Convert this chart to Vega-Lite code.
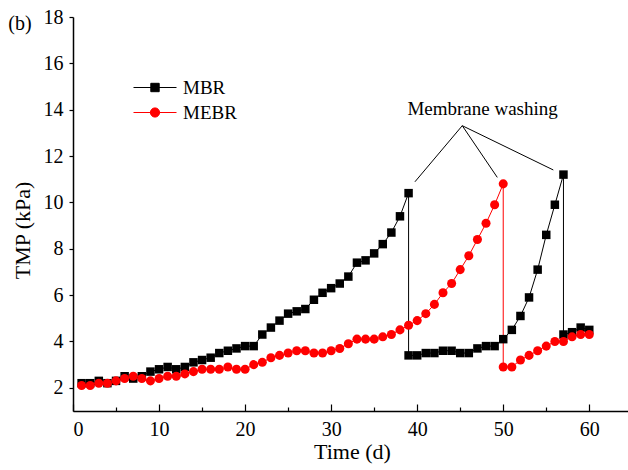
{
  "$schema": "https://vega.github.io/schema/vega-lite/v6.json",
  "width": 555,
  "height": 394,
  "autosize": "none",
  "padding": {"left": 73, "top": 17, "right": 0, "bottom": 59},
  "background": "white",
  "config": {
    "view": {"stroke": null},
    "font": "Liberation Serif",
    "text": {"font": "Liberation Serif"},
    "style": {
      "guide-label": {"font": "Liberation Serif", "fill": "black"},
      "guide-title": {"font": "Liberation Serif", "fill": "black"}
    },
    "legend": {"labelFont": "Liberation Serif"},
    "axis": {
      "grid": false,
      "domainColor": "black",
      "tickColor": "black",
      "labelColor": "black",
      "titleColor": "black",
      "labelFont": "Liberation Serif",
      "titleFont": "Liberation Serif",
      "labelFontSize": 20,
      "titleFontSize": 22,
      "titleFontWeight": "normal",
      "domainWidth": 1.5,
      "tickWidth": 1.2
    }
  },
  "datasets": {
    "tmp": [
      {"series": "MBR", "i": 1, "day": 1, "tmp": 2.2},
      {"series": "MBR", "i": 2, "day": 2, "tmp": 2.2},
      {"series": "MBR", "i": 3, "day": 3, "tmp": 2.3},
      {"series": "MBR", "i": 4, "day": 4, "tmp": 2.2},
      {"series": "MBR", "i": 5, "day": 5, "tmp": 2.3},
      {"series": "MBR", "i": 6, "day": 6, "tmp": 2.5},
      {"series": "MBR", "i": 7, "day": 7, "tmp": 2.4},
      {"series": "MBR", "i": 8, "day": 8, "tmp": 2.5},
      {"series": "MBR", "i": 9, "day": 9, "tmp": 2.7},
      {"series": "MBR", "i": 10, "day": 10, "tmp": 2.8},
      {"series": "MBR", "i": 11, "day": 11, "tmp": 2.9},
      {"series": "MBR", "i": 12, "day": 12, "tmp": 2.8},
      {"series": "MBR", "i": 13, "day": 13, "tmp": 2.9},
      {"series": "MBR", "i": 14, "day": 14, "tmp": 3.1},
      {"series": "MBR", "i": 15, "day": 15, "tmp": 3.2},
      {"series": "MBR", "i": 16, "day": 16, "tmp": 3.3},
      {"series": "MBR", "i": 17, "day": 17, "tmp": 3.5},
      {"series": "MBR", "i": 18, "day": 18, "tmp": 3.6},
      {"series": "MBR", "i": 19, "day": 19, "tmp": 3.7},
      {"series": "MBR", "i": 20, "day": 20, "tmp": 3.8},
      {"series": "MBR", "i": 21, "day": 21, "tmp": 3.8},
      {"series": "MBR", "i": 22, "day": 22, "tmp": 4.3},
      {"series": "MBR", "i": 23, "day": 23, "tmp": 4.6},
      {"series": "MBR", "i": 24, "day": 24, "tmp": 4.9},
      {"series": "MBR", "i": 25, "day": 25, "tmp": 5.2},
      {"series": "MBR", "i": 26, "day": 26, "tmp": 5.3},
      {"series": "MBR", "i": 27, "day": 27, "tmp": 5.4},
      {"series": "MBR", "i": 28, "day": 28, "tmp": 5.8},
      {"series": "MBR", "i": 29, "day": 29, "tmp": 6.1},
      {"series": "MBR", "i": 30, "day": 30, "tmp": 6.3},
      {"series": "MBR", "i": 31, "day": 31, "tmp": 6.5},
      {"series": "MBR", "i": 32, "day": 32, "tmp": 6.8},
      {"series": "MBR", "i": 33, "day": 33, "tmp": 7.4},
      {"series": "MBR", "i": 34, "day": 34, "tmp": 7.5},
      {"series": "MBR", "i": 35, "day": 35, "tmp": 7.8},
      {"series": "MBR", "i": 36, "day": 36, "tmp": 8.2},
      {"series": "MBR", "i": 37, "day": 37, "tmp": 8.7},
      {"series": "MBR", "i": 38, "day": 38, "tmp": 9.4},
      {"series": "MBR", "i": 39, "day": 39, "tmp": 10.4},
      {"series": "MBR", "i": 40, "day": 39, "tmp": 3.4},
      {"series": "MBR", "i": 41, "day": 40, "tmp": 3.4},
      {"series": "MBR", "i": 42, "day": 41, "tmp": 3.5},
      {"series": "MBR", "i": 43, "day": 42, "tmp": 3.5},
      {"series": "MBR", "i": 44, "day": 43, "tmp": 3.6},
      {"series": "MBR", "i": 45, "day": 44, "tmp": 3.6},
      {"series": "MBR", "i": 46, "day": 45, "tmp": 3.5},
      {"series": "MBR", "i": 47, "day": 46, "tmp": 3.5},
      {"series": "MBR", "i": 48, "day": 47, "tmp": 3.7},
      {"series": "MBR", "i": 49, "day": 48, "tmp": 3.8},
      {"series": "MBR", "i": 50, "day": 49, "tmp": 3.8},
      {"series": "MBR", "i": 51, "day": 50, "tmp": 4.1},
      {"series": "MBR", "i": 52, "day": 51, "tmp": 4.5},
      {"series": "MBR", "i": 53, "day": 52, "tmp": 5.1},
      {"series": "MBR", "i": 54, "day": 53, "tmp": 5.9},
      {"series": "MBR", "i": 55, "day": 54, "tmp": 7.1},
      {"series": "MBR", "i": 56, "day": 55, "tmp": 8.6},
      {"series": "MBR", "i": 57, "day": 56, "tmp": 9.9},
      {"series": "MBR", "i": 58, "day": 57, "tmp": 11.2},
      {"series": "MBR", "i": 59, "day": 57, "tmp": 4.3},
      {"series": "MBR", "i": 60, "day": 58, "tmp": 4.4},
      {"series": "MBR", "i": 61, "day": 59, "tmp": 4.6},
      {"series": "MBR", "i": 62, "day": 60, "tmp": 4.5},
      {"series": "MEBR", "i": 1, "day": 1, "tmp": 2.1},
      {"series": "MEBR", "i": 2, "day": 2, "tmp": 2.1},
      {"series": "MEBR", "i": 3, "day": 3, "tmp": 2.2},
      {"series": "MEBR", "i": 4, "day": 4, "tmp": 2.2},
      {"series": "MEBR", "i": 5, "day": 5, "tmp": 2.3},
      {"series": "MEBR", "i": 6, "day": 6, "tmp": 2.4},
      {"series": "MEBR", "i": 7, "day": 7, "tmp": 2.5},
      {"series": "MEBR", "i": 8, "day": 8, "tmp": 2.4},
      {"series": "MEBR", "i": 9, "day": 9, "tmp": 2.3},
      {"series": "MEBR", "i": 10, "day": 10, "tmp": 2.4},
      {"series": "MEBR", "i": 11, "day": 11, "tmp": 2.5},
      {"series": "MEBR", "i": 12, "day": 12, "tmp": 2.5},
      {"series": "MEBR", "i": 13, "day": 13, "tmp": 2.6},
      {"series": "MEBR", "i": 14, "day": 14, "tmp": 2.7},
      {"series": "MEBR", "i": 15, "day": 15, "tmp": 2.8},
      {"series": "MEBR", "i": 16, "day": 16, "tmp": 2.8},
      {"series": "MEBR", "i": 17, "day": 17, "tmp": 2.8},
      {"series": "MEBR", "i": 18, "day": 18, "tmp": 2.9},
      {"series": "MEBR", "i": 19, "day": 19, "tmp": 2.8},
      {"series": "MEBR", "i": 20, "day": 20, "tmp": 2.8},
      {"series": "MEBR", "i": 21, "day": 21, "tmp": 3.0},
      {"series": "MEBR", "i": 22, "day": 22, "tmp": 3.1},
      {"series": "MEBR", "i": 23, "day": 23, "tmp": 3.3},
      {"series": "MEBR", "i": 24, "day": 24, "tmp": 3.4},
      {"series": "MEBR", "i": 25, "day": 25, "tmp": 3.5},
      {"series": "MEBR", "i": 26, "day": 26, "tmp": 3.6},
      {"series": "MEBR", "i": 27, "day": 27, "tmp": 3.6},
      {"series": "MEBR", "i": 28, "day": 28, "tmp": 3.5},
      {"series": "MEBR", "i": 29, "day": 29, "tmp": 3.5},
      {"series": "MEBR", "i": 30, "day": 30, "tmp": 3.6},
      {"series": "MEBR", "i": 31, "day": 31, "tmp": 3.7},
      {"series": "MEBR", "i": 32, "day": 32, "tmp": 3.9},
      {"series": "MEBR", "i": 33, "day": 33, "tmp": 4.1},
      {"series": "MEBR", "i": 34, "day": 34, "tmp": 4.1},
      {"series": "MEBR", "i": 35, "day": 35, "tmp": 4.1},
      {"series": "MEBR", "i": 36, "day": 36, "tmp": 4.2},
      {"series": "MEBR", "i": 37, "day": 37, "tmp": 4.3},
      {"series": "MEBR", "i": 38, "day": 38, "tmp": 4.5},
      {"series": "MEBR", "i": 39, "day": 39, "tmp": 4.7},
      {"series": "MEBR", "i": 40, "day": 40, "tmp": 4.9},
      {"series": "MEBR", "i": 41, "day": 41, "tmp": 5.2},
      {"series": "MEBR", "i": 42, "day": 42, "tmp": 5.6},
      {"series": "MEBR", "i": 43, "day": 43, "tmp": 6.1},
      {"series": "MEBR", "i": 44, "day": 44, "tmp": 6.5},
      {"series": "MEBR", "i": 45, "day": 45, "tmp": 7.1},
      {"series": "MEBR", "i": 46, "day": 46, "tmp": 7.7},
      {"series": "MEBR", "i": 47, "day": 47, "tmp": 8.4},
      {"series": "MEBR", "i": 48, "day": 48, "tmp": 9.1},
      {"series": "MEBR", "i": 49, "day": 49, "tmp": 9.9},
      {"series": "MEBR", "i": 50, "day": 50, "tmp": 10.8},
      {"series": "MEBR", "i": 51, "day": 50, "tmp": 2.9},
      {"series": "MEBR", "i": 52, "day": 51, "tmp": 2.9},
      {"series": "MEBR", "i": 53, "day": 52, "tmp": 3.2},
      {"series": "MEBR", "i": 54, "day": 53, "tmp": 3.4},
      {"series": "MEBR", "i": 55, "day": 54, "tmp": 3.6},
      {"series": "MEBR", "i": 56, "day": 55, "tmp": 3.8},
      {"series": "MEBR", "i": 57, "day": 56, "tmp": 4.0},
      {"series": "MEBR", "i": 58, "day": 57, "tmp": 4.0},
      {"series": "MEBR", "i": 59, "day": 58, "tmp": 4.2},
      {"series": "MEBR", "i": 60, "day": 59, "tmp": 4.3},
      {"series": "MEBR", "i": 61, "day": 60, "tmp": 4.3}
    ],
    "ann": [
      {"x0": 45.24, "y0": 13.31, "x1": 39.74, "y1": 10.89},
      {"x0": 45.24, "y0": 13.31, "x1": 49.31, "y1": 11.08},
      {"x0": 45.24, "y0": 13.31, "x1": 55.82, "y1": 11.4}
    ],
    "label": [
      {"label": "Membrane washing", "lx": 47.6, "ly": 13.77, "fs": "a"},
      {"label": "(b)", "lx": -6.16, "ly": 17.44, "fs": "b"}
    ]
  },
  "layer": [
    {
      "mark": {"type": "rule", "color": "black", "strokeWidth": 1.5},
      "encoding": {"y": {"datum": 18, "type": "quantitative"}}
    },
    {
      "data": {"name": "tmp"},
      "mark": {"type": "line", "strokeWidth": 1},
      "encoding": {
        "x": {
          "field": "day", "type": "quantitative",
          "scale": {"domain": [0, 64.5], "nice": false, "zero": false},
          "axis": {
            "orient": "bottom",
            "values": [0, 5, 10, 15, 20, 25, 30, 35, 40, 45, 50, 55, 60],
            "labelExpr": "datum.value % 10 === 0 ? datum.label : ''",
            "tickSize": {"condition": {"test": "datum.value % 10 === 0", "value": -7}, "value": -4},
            "labelPadding": 31, "labelBaseline": "alphabetic",
            "labelFont": "Liberation Serif", "labelFontSize": 20, "labelColor": "black",
            "title": "Time (d)", "titleX": 279, "titleY": 47, "titleBaseline": "alphabetic",
            "titleFont": "Liberation Serif", "titleFontSize": 22
          }
        },
        "y": {
          "field": "tmp", "type": "quantitative",
          "scale": {"domain": [1, 18], "nice": false, "zero": false},
          "axis": {
            "orient": "left",
            "values": [2, 3, 4, 5, 6, 7, 8, 9, 10, 11, 12, 13, 14, 15, 16, 17, 18],
            "labelExpr": "datum.value % 2 === 0 ? datum.label : ''",
            "tickSize": 4, "labelPadding": 6,
            "labelFont": "Liberation Serif", "labelFontSize": 20, "labelColor": "black",
            "title": "TMP (kPa)", "titleX": -44, "titleY": 213, "titleBaseline": "alphabetic", "titleAngle": -90,
            "titleFont": "Liberation Serif", "titleFontSize": 22
          }
        },
        "color": {
          "field": "series", "type": "nominal",
          "scale": {"domain": ["MBR", "MEBR"], "range": ["black", "#ff0000"]},
          "legend": {
            "orient": "none", "legendX": 71.5, "legendY": 60, "title": null,
            "labelFont": "Liberation Serif", "labelFontSize": 19, "labelColor": "black",
            "symbolSize": 400, "labelOffset": 17.5, "rowPadding": 4, "symbolStrokeWidth": 1,
            "encode": {
              "labels": {"update": {"font": {"value": "Liberation Serif"}}},
              "symbols": {
                "update": {
                  "shape": {"signal": "datum.value === 'MBR' ? 'M-2.15,0H2.15M-0.42,-0.42H0.42V0.42H-0.42Z' : 'M-2.15,0H2.15M-0.46,0A0.46,0.46 0 1,1 0.46,0A0.46,0.46 0 1,1 -0.46,0Z'"},
                  "stroke": {"signal": "datum.value === 'MBR' ? 'black' : '#ff0000'"},
                  "fill": {"signal": "datum.value === 'MBR' ? 'black' : '#ff0000'"},
                  "strokeWidth": {"value": 1},
                  "opacity": {"value": 1}
                }
              }
            }
          }
        },
        "order": {"field": "i", "type": "quantitative"}
      }
    },
    {
      "data": {"name": "tmp"},
      "transform": [{"filter": "datum.series === 'MBR'"}],
      "mark": {"type": "point", "shape": "square", "filled": true, "opacity": 1, "strokeWidth": 0, "size": 72},
      "encoding": {
        "x": {"field": "day", "type": "quantitative"},
        "y": {"field": "tmp", "type": "quantitative"},
        "color": {"field": "series", "type": "nominal", "legend": null}
      }
    },
    {
      "data": {"name": "tmp"},
      "transform": [{"filter": "datum.series === 'MEBR'"}],
      "mark": {"type": "point", "shape": "circle", "filled": true, "opacity": 1, "strokeWidth": 0, "size": 82},
      "encoding": {
        "x": {"field": "day", "type": "quantitative"},
        "y": {"field": "tmp", "type": "quantitative"},
        "color": {"field": "series", "type": "nominal", "legend": null}
      }
    },
    {
      "data": {"name": "ann"},
      "mark": {"type": "rule", "color": "black", "strokeWidth": 1},
      "encoding": {
        "x": {"field": "x0", "type": "quantitative"},
        "y": {"field": "y0", "type": "quantitative"},
        "x2": {"field": "x1"},
        "y2": {"field": "y1"}
      }
    },
    {
      "data": {"name": "label"},
      "mark": {"type": "text", "font": "Liberation Serif", "baseline": "alphabetic", "align": "center", "color": "black"},
      "encoding": {
        "x": {"field": "lx", "type": "quantitative"},
        "y": {"field": "ly", "type": "quantitative"},
        "text": {"field": "label"},
        "size": {"field": "fs", "type": "nominal", "scale": {"domain": ["a", "b"], "range": [19, 20]}, "legend": null}
      }
    }
  ]
}
